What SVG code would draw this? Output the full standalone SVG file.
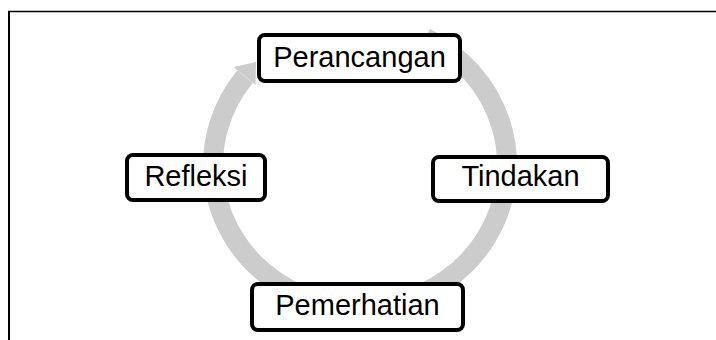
<svg xmlns="http://www.w3.org/2000/svg" width="716" height="340" viewBox="0 0 716 340">
<style>
.box{fill:#ffffff;stroke:#000000;stroke-width:4}
.lbl{font-family:"Liberation Sans",Arial,sans-serif;font-size:29px;fill:#000000;text-anchor:middle}
.ring{fill:none;stroke:#cccccc;stroke-width:20;stroke-linecap:butt}
</style>
<rect x="0" y="0" width="716" height="340" fill="#ffffff"/>
<g id="frame" stroke="#000000">
<line x1="8" y1="11.5" x2="716" y2="11.5" stroke-width="1.5"/>
<line x1="9" y1="11" x2="9" y2="340" stroke-width="2"/>
</g>
<g id="connectors">
<path class="ring" d="M425.6,37.9 A147,142 0 1 1 245,76.6"/>
<polygon points="233.5,67 255.5,85 256,62" fill="#cccccc"/>
</g>
<g id="perancangan">
<rect class="box" x="259" y="35" width="201" height="46" rx="6"/>
<text class="lbl" x="359.5" y="67">Perancangan</text>
</g>
<g id="tindakan">
<rect class="box" x="433" y="157" width="175" height="44" rx="6"/>
<text class="lbl" x="520.5" y="186">Tindakan</text>
</g>
<g id="pemerhatian">
<rect class="box" x="252" y="284" width="211" height="46" rx="6"/>
<text class="lbl" x="357.5" y="315">Pemerhatian</text>
</g>
<g id="refleksi">
<rect class="box" x="127" y="155" width="138" height="45" rx="6"/>
<text class="lbl" x="196" y="186">Refleksi</text>
</g>
</svg>
